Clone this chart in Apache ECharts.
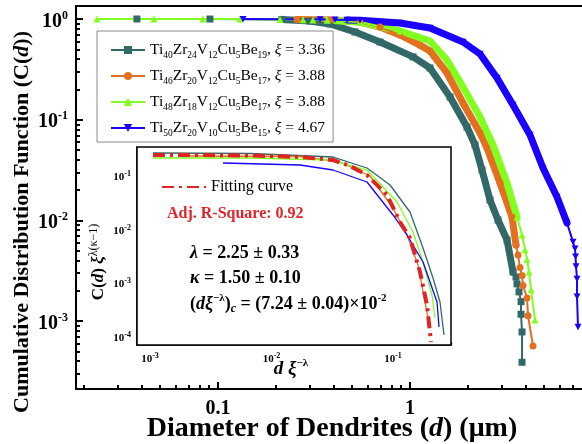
<!DOCTYPE html>
<html><head><meta charset="utf-8">
<script src="https://cdn.jsdelivr.net/npm/echarts@6/dist/echarts.min.js"></script>
<style>html,body{margin:0;padding:0;background:#fff}#c{width:582px;height:444px}</style>
</head><body><div id="c"></div>
<script>
// ---------- data ----------
const names = ['Ti40Zr24V12Cu5Be19, ξ = 3.36','Ti46Zr20V12Cu5Be17, ξ = 3.88','Ti48Zr18V12Cu5Be17, ξ = 3.88','Ti50Zr20V10Cu5Be15, ξ = 4.67'];
const legendParts = [['40','24','12','5','19','3.36'],['46','20','12','5','17','3.88'],['48','18','12','5','17','3.88'],['50','20','10','5','15','4.67']];

const tealD = [0.0378,0.0908,0.215,0.301,0.383,0.517,0.698,1.037,1.271,1.616,1.981,2.181,2.371,2.61,2.873,3.201,3.44,3.565,3.608,3.696,3.786,3.786,3.832,3.832];
const tealC = [1.0,0.999,0.99,0.955,0.892,0.743,0.591,0.420,0.326,0.168,0.0846,0.0561,0.0317,0.01594,0.01009,0.00639,0.00307,0.00274,0.00234,0.00195,0.00156,0.00117,0.00078,0.00039];
const tealDense = [2,16];

const orangeD = [0.258,0.383,0.549,0.698,0.887,1.127,1.271,1.558,1.888,2.315,2.518,2.943,3.398,3.565,3.652,3.741,3.832,3.877,4.068,4.118,4.372];
const orangeC = [0.99,0.977,0.934,0.833,0.694,0.55,0.481,0.291,0.1465,0.0738,0.0524,0.0235,0.01081,0.0057,0.00453,0.0034,0.00283,0.00226,0.0017,0.00113,0.000566];
const orangeDense = [0,13];

const greenD = [0.0234,0.0464,0.0835,0.1302,0.2103,0.277,0.312,0.370,0.549,0.887,1.271,1.558,1.888,2.315,2.706,3.201,3.608,3.832,3.972,4.068,4.168,4.268,4.478];
const greenC = [1.0,0.9995,0.999,0.998,0.99,0.985,0.98,0.97,0.934,0.760,0.605,0.3915,0.2112,0.1063,0.0561,0.0235,0.01081,0.00717,0.00512,0.0041,0.00307,0.00205,0.001025];
const greenDense = [7,16];

const blueD = [0.135,0.34,0.407,0.47,0.549,0.887,1.271,1.888,2.315,2.839,3.44,4.217,4.928,5.831,6.573,7.063,7.234,7.28,7.322,7.41,7.41,7.499];
const blueC = [0.999,0.99,0.985,0.98,0.97,0.913,0.814,0.591,0.449,0.2595,0.140,0.0705,0.0331,0.01708,0.00942,0.00612,0.00524,0.00437,0.0035,0.00262,0.00175,0.000874];
const blueDense = [3,14];

// inset (scaled) curves
const iTealX = [0.001059,0.006652,0.03209,0.06109,0.09447,0.1380,0.1766,0.2134,0.2436,0.2629];
const iTealY = [0.2798,0.2740,0.2357,0.1471,0.07096,0.02229,0.004762,0.001316,0.000470,0.0001142];
const iOrangeX = [0.002134,0.01717,0.03663,0.06465,0.1,0.1304,0.1606,0.1834,0.2016];
const iOrangeY = [0.2461,0.2408,0.1902,0.1044,0.02647,0.00832,0.002298,0.000470,0.0001542];
const iGreenX = [0.001059,0.006652,0.03031,0.06109,0.1079,0.1461,0.1766,0.2094,0.2216];
const iGreenY = [0.2259,0.2259,0.2073,0.1350,0.03424,0.00946,0.002613,0.000635,0.000237];
const iBlueX = [0.003989,0.01717,0.03209,0.06109,0.1,0.1304,0.1766,0.2302,0.2391];
const iBlueY = [0.1823,0.1673,0.1350,0.08069,0.01961,0.00832,0.002613,0.000470,0.000161];
const fitX = [0.001059,0.002579,0.006652,0.01717,0.03209,0.04426,0.06109,0.08925,0.1142,0.1380,0.1668,0.1905,0.2055];
const fitY = [0.2569,0.2569,0.2514,0.2357,0.2073,0.1602,0.1090,0.04622,0.01452,0.00731,0.001702,0.000413,0.0000846];

// axis tick values
const mainXMajor = [0.1, 1];
const mainYMajor = [0.001, 0.01, 0.1, 1];
const insetXMajor = [0.001, 0.01, 0.1];
const insetYMajor = [0.0001, 0.001, 0.01, 0.1];

// ---------- chart ----------
const F = 'Liberation Serif';
const colors = ['#336868', '#E2701E', '#80FF20', '#1A00FF'];
const symbols = ['rect', 'circle', 'triangle', 'path://M0,0L10,0L5,9Z'];
const mats = [[tealD,tealC,tealDense],[orangeD,orangeC,orangeDense],[greenD,greenC,greenDense],[blueD,blueC,blueDense]];
const insetSets = [[iTealX,iTealY],[iOrangeX,iOrangeY],[iGreenX,iGreenY],[iBlueX,iBlueY]];

function minors(lo, hi) {
  const out = [];
  for (let e = -6; e <= 1; e++) for (let k = 2; k <= 9; k++) {
    const v = k * Math.pow(10, e);
    if (v > lo && v < hi) out.push(+v.toPrecision(3));
  }
  return out;
}
const MX = [0.01821, 7.866], MY = [2.117e-4, 1.346];
const IX = [7.816e-4, 0.3001], IY = [7.44e-5, 0.362];

function pow10Label(v) {
  const e = Math.round(Math.log10(v));
  return '{b|10}{p|' + e + '}';
}
const bigRich = { b: {fontFamily:F, fontWeight:'bold', fontSize:20, color:'#000', lineHeight:24},
                  p: {fontFamily:F, fontWeight:'bold', fontSize:12, color:'#000', verticalAlign:'top', lineHeight:13} };
const smallRich = { b: {fontFamily:F, fontWeight:'bold', fontSize:11, color:'#000', lineHeight:14},
                    p: {fontFamily:F, fontWeight:'bold', fontSize:8, color:'#000', verticalAlign:'top', lineHeight:9} };

function logAxis(ext, grid, pos, opts) {
  return Object.assign({
    type: 'log', gridIndex: grid, position: pos, min: ext[0], max: ext[1],
    splitLine: {show:false}, minorTick:{show:false}, minorSplitLine:{show:false}
  }, opts);
}
function majorAxis(ext, grid, pos, majors, lineW, tickLen, labelOpts) {
  return logAxis(ext, grid, pos, {
    axisLine: {show:true, onZero:false, lineStyle:{color:'#000', width:lineW}},
    axisTick: {show:true, inside:true, length:tickLen, customValues: majors, lineStyle:{color:'#000', width:lineW}},
    axisLabel: Object.assign({show:true, customValues: majors}, labelOpts)
  });
}
function minorAxis(ext, grid, pos, lineW, tickLen) {
  return logAxis(ext, grid, pos, {
    axisLine: {show:false},
    axisTick: {show:true, inside:true, length:tickLen, customValues: minors(ext[0], ext[1]), lineStyle:{color:'#000', width:lineW}},
    axisLabel: {show:false}
  });
}

const xAxis = [
  majorAxis(MX, 0, 'bottom', mainXMajor, 2, 7, {margin:10, formatter: v => v < 0.5 ? '0.1' : '1', fontFamily:F, fontWeight:'bold', fontSize:20, color:'#000'}),
  minorAxis(MX, 0, 'bottom', 2, 4),
  majorAxis(IX, 1, 'bottom', insetXMajor, 1.5, 5, {margin:7, formatter: pow10Label, rich: smallRich}),
  minorAxis(IX, 1, 'bottom', 1.2, 3),
  {type:'value', gridIndex:0, position:'top', min:0, max:1, axisLine:{show:true, lineStyle:{color:'#000', width:2}},
   axisTick:{show:false}, axisLabel:{show:false}, splitLine:{show:false}}
];
const yAxis = [
  majorAxis(MY, 0, 'left', mainYMajor, 2, 7, {margin:8, padding:[5,0,0,0], formatter: pow10Label, rich: bigRich}),
  minorAxis(MY, 0, 'left', 2, 4),
  majorAxis(IY, 1, 'left', insetYMajor, 1.5, 5, {margin:6, formatter: pow10Label, rich: smallRich}),
  minorAxis(IY, 1, 'left', 1.2, 3)
];

const series = [];
mats.forEach((m, i) => {
  const [xs, ys] = m;
  series.push({
    name: names[i], type: 'line', xAxisIndex: 0, yAxisIndex: 0, data: xs.map((x, k) => [x, ys[k]]),
    symbol: symbols[i], symbolSize: 7, symbolKeepAspect: true, showSymbol: true, showAllSymbol: true,
    lineStyle: {color: colors[i], width: 2}, itemStyle: {color: colors[i]}, z: 3, animation: false
  });
});
mats.forEach((m, i) => {
  const [xs, ys, dense] = m;
  const body = [];
  for (let k = dense[0]; k <= dense[1]; k++) body.push([xs[k], ys[k]]);
  series.push({
    name: names[i], type: 'line', xAxisIndex: 0, yAxisIndex: 0, data: body,
    showSymbol: false, symbol: 'none', lineStyle: {color: colors[i], width: 7, join: 'round', cap: 'round'},
    itemStyle: {color: colors[i]}, z: 2, animation: false
  });
});
insetSets.forEach((s, i) => {
  series.push({
    name: 'inset' + i, type: 'line', xAxisIndex: 2, yAxisIndex: 2,
    data: s[0].map((x, k) => [x, s[1][k]]), showSymbol: false, symbol: 'none',
    lineStyle: {color: colors[i], width: 1.3}, z: 5, animation: false
  });
});
series.push({
  name: 'Fitting curve', type: 'line', xAxisIndex: 2, yAxisIndex: 2,
  data: fitX.map((x, k) => [x, fitY[k]]), showSymbol: false, symbol: 'none',
  lineStyle: {color: '#E02424', width: 4, type: [12, 5, 3, 5]}, itemStyle: {color:'#E02424'}, z: 6, animation: false
});

const legRich = {
  r: {fontFamily:F, fontSize:15.5, color:'#000', lineHeight:20},
  s: {fontFamily:F, fontSize:9.5, color:'#000', verticalAlign:'bottom', lineHeight:11},
  x: {fontFamily:F, fontSize:15.5, fontStyle:'italic', color:'#000', lineHeight:20}
};
function legendLabel(name) {
  const p = legendParts[names.indexOf(name)];
  return '{r|Ti}{s|' + p[0] + '}{r|Zr}{s|' + p[1] + '}{r|V}{s|' + p[2] + '}{r|Cu}{s|' + p[3] + '}{r|Be}{s|' + p[4] + '}{r|, }{x|ξ}{r| = ' + p[5] + '}';
}

const gRich = {
  t: {fontFamily:F, fontWeight:'bold', fontSize:22, fill:'#000'},
  ti: {fontFamily:F, fontWeight:'bold', fontStyle:'italic', fontSize:22, fill:'#000'},
  x: {fontFamily:F, fontWeight:'bold', fontSize:28, fill:'#000'},
  xi: {fontFamily:F, fontWeight:'bold', fontStyle:'italic', fontSize:28, fill:'#000'},
  g: {fontFamily:F, fontWeight:'bold', fontSize:18, fill:'#000', lineHeight:22},
  gi: {fontFamily:F, fontWeight:'bold', fontStyle:'italic', fontSize:18, fill:'#000', lineHeight:22},
  gsp: {fontFamily:F, fontWeight:'bold', fontSize:11, fill:'#000', verticalAlign:'top', lineHeight:10},
  gsb: {fontFamily:F, fontWeight:'bold', fontStyle:'italic', fontSize:12, fill:'#000', verticalAlign:'bottom', lineHeight:11},
  it: {fontFamily:F, fontWeight:'bold', fontSize:17, fill:'#000', lineHeight:22},
  iti: {fontFamily:F, fontWeight:'bold', fontStyle:'italic', fontSize:17, fill:'#000', lineHeight:22},
  isp: {fontFamily:F, fontSize:12, fill:'#000', verticalAlign:'top', lineHeight:11},
  xt: {fontFamily:F, fontWeight:'bold', fontStyle:'italic', fontSize:19, fill:'#000', lineHeight:22},
  xsp: {fontFamily:F, fontWeight:'bold', fontSize:11, fill:'#000', verticalAlign:'top', lineHeight:10}
};

const option = {
  animation: false,
  backgroundColor: '#fff',
  grid: [
    {left: 76, right: 0, top: 6, bottom: 55, show: false, containLabel: false},
    {left: 137, right: 131, top: 147, bottom: 99, show: true, backgroundColor: '#fff', borderColor: '#000', borderWidth: 1.5, z: 4}
  ],
  xAxis, yAxis, series,
  legend: [
    {data: names, orient: 'vertical', left: 97, top: 31, padding: [11, 8, 4, 13], itemGap: 8,
     itemWidth: 34, itemHeight: 10, backgroundColor: '#fff', borderColor: '#8a8a8a', borderWidth: 1,
     selectedMode: false, formatter: legendLabel, textStyle: {rich: legRich}, z: 10},
    {data: ['Fitting curve'], left: 161, top: 179, padding: 0, itemWidth: 44, itemHeight: 10,
     itemStyle: {color: 'rgba(0,0,0,0)', borderWidth: 0},
     selectedMode: false, textStyle: {fontFamily: F, fontSize: 16, color: '#000'}, z: 10}
  ],
  graphic: [
    {type:'text', x: 22, y: 222, rotation: Math.PI/2, z: 20,
     style:{text:'{t|Cumulative Distribution Function (C(}{ti|d}{t|))}', rich: gRich, align:'center', verticalAlign:'middle'}},
    {type:'text', x: 332, y: 429, z: 20,
     style:{text:'{x|Diameter of Dendrites (}{xi|d}{x|) (μm)}', rich: gRich, align:'center', verticalAlign:'middle'}},
    {type:'text', x: 167, y: 214, z: 20,
     style:{text:'Adj. R-Square: 0.92', font:'bold 16px "Liberation Serif"', fill:'#E02428', align:'left', verticalAlign:'middle'}},
    {type:'text', x: 190, y: 253, z: 20,
     style:{text:'{gi|λ}{g| = 2.25 ± 0.33}', rich: gRich, align:'left', verticalAlign:'middle'}},
    {type:'text', x: 190, y: 278, z: 20,
     style:{text:'{gi|κ}{g| = 1.50 ± 0.10}', rich: gRich, align:'left', verticalAlign:'middle'}},
    {type:'text', x: 190, y: 304, z: 20,
     style:{text:'{g|(}{gi|dξ}{gsp|−λ}{g|)}{gsb|c}{g| = (7.24 ± 0.04)×10}{gsp|-2}', rich: gRich, align:'left', verticalAlign:'middle'}},
    {type:'text', x: 99, y: 262, rotation: Math.PI/2, z: 20,
     style:{text:'{it|C(}{iti|d}{it|) }{iti|ξ}{isp|λ(κ−1)}', rich: gRich, align:'center', verticalAlign:'middle'}},
    {type:'text', x: 291, y: 369, z: 20,
     style:{text:'{xt|d ξ}{xsp|−λ}', rich: gRich, align:'center', verticalAlign:'middle'}}
  ]
};
const chart = echarts.init(document.getElementById('c'), null, {renderer: 'canvas'});
chart.setOption(option);
</script>
</body></html>
